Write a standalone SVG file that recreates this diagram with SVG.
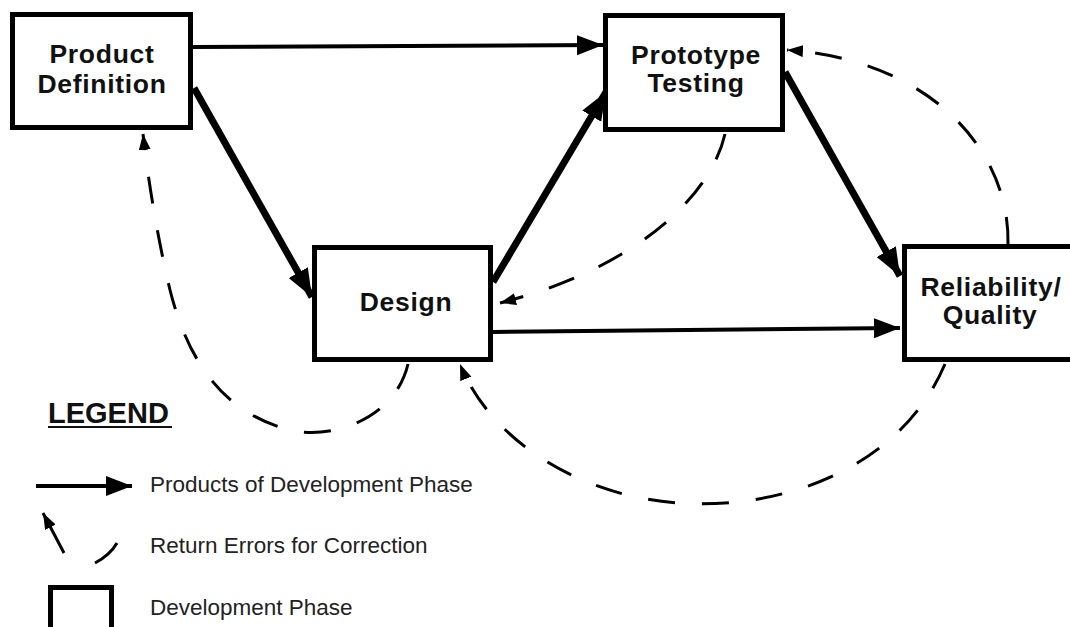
<svg xmlns="http://www.w3.org/2000/svg" width="1070" height="627" viewBox="0 0 1070 627">
<style>
.box{fill:#fff;stroke:#000;stroke-width:5}
.lbl{font-family:"Liberation Sans",Arial,sans-serif;font-weight:bold;font-size:26.5px;letter-spacing:0.7px;fill:#111;text-anchor:middle}
.solid{fill:none;stroke:#000}
.thin{stroke-width:4;marker-end:url(#ah)}
.thick{stroke-width:7;marker-end:url(#ahb)}
.dash{fill:none;stroke:#000;stroke-width:3;stroke-dasharray:27 27;marker-end:url(#ahs)}
.leg{font-family:"Liberation Sans",Arial,sans-serif;font-size:22.5px;fill:#222}
</style>
<defs>
<marker id="ah" markerUnits="userSpaceOnUse" markerWidth="28" markerHeight="22" refX="26" refY="10" orient="auto">
<path d="M0,0 L26,10 L0,20 z" fill="#000"/>
</marker>
<marker id="ahb" markerUnits="userSpaceOnUse" markerWidth="30" markerHeight="24" refX="28" refY="11" orient="auto">
<path d="M0,0 L28,11 L0,22 z" fill="#000"/>
</marker>
<marker id="ahs" markerUnits="userSpaceOnUse" markerWidth="18" markerHeight="14" refX="16" refY="6" orient="auto">
<path d="M0,0 L16,6 L0,12 z" fill="#000"/>
</marker>
</defs>
<rect width="1070" height="627" fill="#fff"/>
<g id="connectors">
<line class="solid thin" x1="193" y1="47" x2="603" y2="45"/>
<line class="solid thick" x1="194" y1="88" x2="312" y2="297"/>
<line class="solid thick" x1="493" y1="282" x2="606" y2="92"/>
<line class="solid thick" x1="785" y1="72" x2="900" y2="276"/>
<line class="solid thin" x1="493" y1="332" x2="900" y2="328"/>
<path class="dash" d="M 408 364 C 395 420, 330 440, 290 430 C 230 415, 190 370, 170 290 C 158 240, 148 180, 143 134"/>
<path class="dash" d="M 725 134 C 710 200, 630 270, 500 303"/>
<path class="dash" d="M 1008 244 C 1010 150, 930 60, 787 50"/>
<path class="dash" d="M 945 364 C 900 470, 780 510, 680 503 C 580 497, 490 440, 460 364"/>
</g>
<g id="product-definition">
<rect class="box" x="12.5" y="14.5" width="178" height="113"/>
<text class="lbl" x="102" y="63">Product</text>
<text class="lbl" x="102" y="93">Definition</text>
</g>
<g id="prototype-testing">
<rect class="box" x="605.5" y="15.5" width="177" height="114"/>
<text class="lbl" x="696" y="64">Prototype</text>
<text class="lbl" x="696" y="92">Testing</text>
</g>
<g id="design">
<rect class="box" x="314.5" y="247.5" width="176" height="112"/>
<text class="lbl" x="406" y="311">Design</text>
</g>
<g id="reliability-quality">
<rect class="box" x="904.5" y="246.5" width="200" height="113"/>
<text class="lbl" x="991" y="296">Reliability/</text>
<text class="lbl" x="990" y="324">Quality</text>
</g>
<g id="legend">
<text x="48" y="423" font-family="Liberation Sans, Arial, sans-serif" font-weight="bold" font-size="29" fill="#111">LEGEND</text>
<line x1="48" y1="427" x2="172" y2="427" stroke="#111" stroke-width="2"/>
<line x1="36" y1="486" x2="132" y2="486" stroke="#000" stroke-width="4" marker-end="url(#ah)"/>
<text class="leg" x="150" y="492">Products of Development Phase</text>
<line x1="64" y1="553" x2="43" y2="513" stroke="#000" stroke-width="3" marker-end="url(#ahs)"/>
<path d="M 95 563 Q 110 555 117 543" fill="none" stroke="#000" stroke-width="3"/>
<text class="leg" x="150" y="553">Return Errors for Correction</text>
<rect x="50.5" y="587.5" width="61" height="50" fill="#fff" stroke="#000" stroke-width="5"/>
<text class="leg" x="150" y="615">Development Phase</text>
</g>
</svg>
